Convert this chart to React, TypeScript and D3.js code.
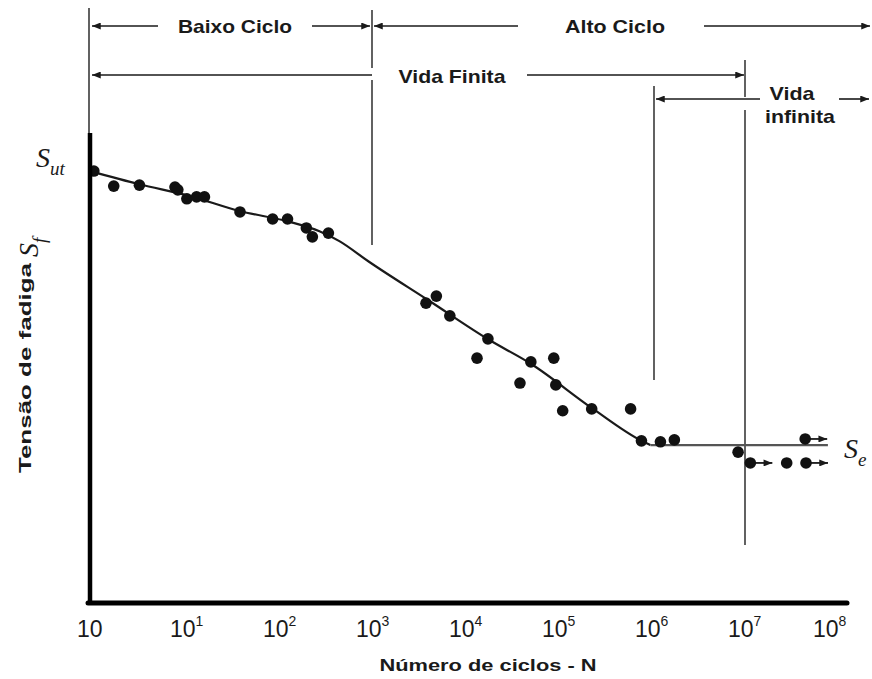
import React from 'react';
import * as d3 from 'd3';

// tick decades along the cycles axis
const cycleTicks = [1, 10, 100, 1e3, 1e4, 1e5, 1e6, 1e7, 1e8];
const tickExponents = ['', '1', '2', '3', '4', '5', '6', '7', '8'];

// test specimens (cycles to failure, stress in % of scale)
const specimenCycles = [
	1.1, 1.8, 3.4, 8.2, 8.8, 11, 14, 17, 41, 92, 133, 212, 246, 366,
	4100, 5300, 7400, 14500, 19000, 42000, 55000, 97000, 102000, 121000, 248000, 650000,
	850000, 1.36e6, 1.92e6, 9.3e6, 1.26e7, 3.1e7, 4.9e7, 5.0e7,
];
const specimenStress = [
	91.9, 88.7, 88.9, 88.5, 87.9, 86.0, 86.4, 86.4, 83.2, 81.7, 81.7, 79.8, 77.9, 78.7,
	63.8, 65.3, 61.1, 52.1, 56.2, 46.8, 51.3, 52.1, 46.4, 40.9, 41.3, 41.3,
	34.5, 34.3, 34.7, 32.1, 29.8, 29.8, 34.9, 29.8,
];
// specimens that did not fail (run-outs)
const specimenRunout = [
	false, false, false, false, false, false, false, false, false, false, false, false, false, false,
	false, false, false, false, false, false, false, false, false, false, false, false,
	false, false, false, false, true, false, true, true,
];

// fitted S-N curve
const fitCycles = [1, 3.4, 11.8, 40.6, 140, 293, 480, 1000, 4430, 19500, 55000, 248000, 851000, 1.06e6];
const fitStress = [91.9, 89.1, 86.6, 83.4, 81.1, 79.1, 77.0, 72.6, 64.3, 56.0, 50.9, 41.5, 34.5, 33.6];
const enduranceStress = 33.6;
const enduranceEnd = 8.6e7;

const W = 872,
	H = 679;

const App = () => {
	const x = d3.scaleLog().domain([1, 1e8]).range([90, 834]),
		y = d3.scaleLinear().domain([0, 100]).range([603, 133]);

	const fit = d3
		.line<number>()
		.x((d, i) => x(fitCycles[i]))
		.y((d) => y(d))
		.curve(d3.curveMonotoneX);

	const sans = '"Liberation Sans", Arial, sans-serif',
		serif = '"Liberation Serif", "Times New Roman", serif',
		ink = '#1a1a1a',
		thin = '#3a3a3a';

	const x3 = x(1e3),
		x6 = x(1e6),
		x7 = x(1e7),
		x0 = x(1);

	const arrow = (x1: number, x2: number, yy: number, key: string) => (
		<line key={key} x1={x1} y1={yy} x2={x2} y2={yy} stroke={ink} strokeWidth={1.6} markerEnd="url(#head)" />
	);

	return (
		<svg width={W} height={H} style={{ position: 'absolute', left: 0, top: 0, background: '#fff' }}>
			<defs>
				<marker id="head" viewBox="0 0 10 8" refX="10" refY="4" markerWidth="10" markerHeight="7" markerUnits="userSpaceOnUse" orient="auto">
					<path d="M0,0 L10,4 L0,8 Z" fill={ink} />
				</marker>
			</defs>

			{/* region boundaries */}
			<g stroke={thin} strokeWidth={1.6}>
				<line x1={x0 - 1} y1={8} x2={x0 - 1} y2={134} />
				<line x1={x3 + 3} y1={10} x2={x3 + 3} y2={68} />
				<line x1={x3 + 3} y1={80} x2={x3 + 3} y2={245} />
				<line x1={x6 + 6} y1={86} x2={x6 + 6} y2={380} />
				<line x1={x7 + 4} y1={60} x2={x7 + 4} y2={97} />
				<line x1={x7 + 4} y1={110} x2={x7 + 4} y2={545} />
			</g>

			{/* region arrows */}
			{arrow(158, x0 + 2, 26, 'a1')}
			{arrow(312, x3 + 1, 26, 'a2')}
			{arrow(518, x3 + 5, 26, 'a3')}
			{arrow(704, 870, 26, 'a4')}
			{arrow(x3 + 3, x0 + 2, 75, 'a5')}
			{arrow(527, x7 + 3, 75, 'a6')}
			{arrow(760, x6 + 8, 99, 'a7')}
			{arrow(839, 869, 99, 'a8')}

			<g fontFamily={sans} fontWeight={700} fontSize={19} fill={ink} textAnchor="middle">
				<text x={235} y={33} textLength={114} lengthAdjust="spacingAndGlyphs">Baixo Ciclo</text>
				<text x={615} y={33} textLength={100} lengthAdjust="spacingAndGlyphs">Alto Ciclo</text>
				<text x={452} y={83} textLength={107} lengthAdjust="spacingAndGlyphs">Vida Finita</text>
				<text x={792} y={100} textLength={45} lengthAdjust="spacingAndGlyphs">Vida</text>
				<text x={800} y={123} textLength={70} lengthAdjust="spacingAndGlyphs">infinita</text>
			</g>

			{/* fitted curve and endurance limit */}
			<path d={fit(fitStress) || ''} fill="none" stroke={ink} strokeWidth={2.2} />
			<line
				x1={x(fitCycles[fitCycles.length - 1])}
				y1={y(enduranceStress)}
				x2={x(enduranceEnd)}
				y2={y(enduranceStress)}
				stroke="#555"
				strokeWidth={2.2}
			/>

			{/* specimens */}
			{specimenCycles.map((n, i) => (
				<g key={i}>
					{specimenRunout[i] && (
						<line
							x1={x(n)}
							y1={y(specimenStress[i])}
							x2={x(n) + 22}
							y2={y(specimenStress[i])}
							stroke={ink}
							strokeWidth={1.8}
							markerEnd="url(#head)"
						/>
					)}
					<circle cx={x(n)} cy={y(specimenStress[i])} r={5.8} fill="#111" />
				</g>
			))}

			{/* axes */}
			<line x1={x0} y1={133} x2={x0} y2={604} stroke="#000" strokeWidth={4.5} />
			<line x1={x0 - 2} y1={603} x2={847} y2={603} stroke="#000" strokeWidth={5} strokeLinecap="round" />

			{/* tick labels */}
			<g fontFamily={sans} fontSize={23} fill={ink}>
				{cycleTicks.map((t, i) => (
					<text key={t} x={x(t) - 13 - (i === 8 ? 8 : 0)} y={637}>
						10
						{tickExponents[i] && (
							<tspan fontSize={14} dy={-11}>
								{tickExponents[i]}
							</tspan>
						)}
					</text>
				))}
			</g>

			<text x={488} y={671} fontFamily={sans} fontWeight={700} fontSize={16} fill={ink} textAnchor="middle" textLength={217} lengthAdjust="spacingAndGlyphs">
				Número de ciclos - N
			</text>
			<text
				transform="translate(31 368) rotate(-90)"
				fontFamily={sans}
				fontWeight={700}
				fontSize={17}
				fill={ink}
				textAnchor="middle"
				textLength={210}
				lengthAdjust="spacingAndGlyphs"
			>
				Tensão de fadiga
			</text>

			{/* stress symbols */}
			<g fontFamily={serif} fontStyle="italic" fill={ink}>
				<text x={36} y={167} fontSize={28}>
					S<tspan fontSize={19} dy={8}>ut</tspan>
				</text>
				<text transform="translate(38 257) rotate(-90)" fontSize={28}>
					S<tspan fontSize={19} dy={8}>f</tspan>
				</text>
				<text x={844} y={458} fontSize={28}>
					S<tspan fontSize={19} dy={8}>e</tspan>
				</text>
			</g>
		</svg>
	);
};

export default App;
